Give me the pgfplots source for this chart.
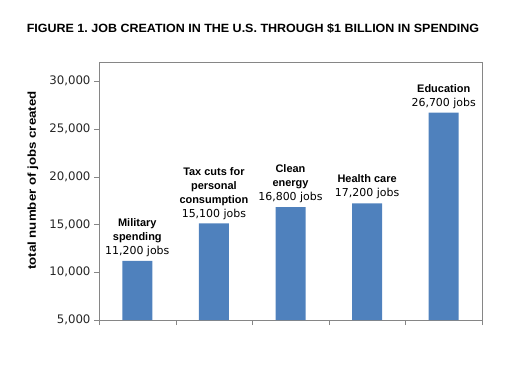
\documentclass[border=0pt]{standalone}
\usepackage{fontspec}
\setmainfont{Liberation Sans}
\newfontfamily\dejavu{DejaVu Sans}
\usepackage{pgfplots}
\pgfplotsset{compat=1.18}
\definecolor{barblue}{HTML}{4F81BD}
\definecolor{axgray}{HTML}{868686}
\begin{document}
\frenchspacing
\begin{tikzpicture}[x=1bp,y=1bp]
\useasboundingbox (0,0) rectangle (523,375);
\node[font=\bfseries\fontsize{12}{14}\selectfont] at (253,346) {\scalebox{1.045}[1]{FIGURE 1. JOB CREATION IN THE U.S. THROUGH \$1 BILLION IN SPENDING}};
\node[rotate=90,font=\bfseries\fontsize{11.5}{14}\selectfont] at (33,194.5) {\scalebox{1.16}[1]{total number of jobs created}};
\begin{axis}[
  at={(99bp,55bp)}, anchor=south west,
  scale only axis, width=383bp, height=258bp,
  xmin=-0.5, xmax=4.5, ymin=5000, ymax=32000,
  xtick={-0.5,0.5,1.5,2.5,3.5,4.5}, xticklabels={},
  ytick={5000,10000,15000,20000,25000,30000},
  scaled y ticks=false,
  xtick pos=bottom, ytick pos=left,
  tick align=outside, major tick length=5bp,
  axis line style={axgray}, tick style={axgray},
  yticklabel style={font=\dejavu\fontsize{11.8}{13}\selectfont, text=black!85},
  /pgf/number format/.cd, 1000 sep={,}, assume math mode=true,
]
\addplot[ybar, bar width=30bp, fill=barblue, draw=none] coordinates {(0,11200) (1,15100) (2,16800) (3,17200) (4,26700)};
\node[above, align=center, inner sep=4bp, font=\fontsize{11}{14}\selectfont] at (axis cs:0,11200) {\textbf{Military}\\\textbf{spending}\\{\dejavu 11,200 jobs}};
\node[above, align=center, inner sep=4bp, font=\fontsize{11}{14}\selectfont] at (axis cs:1,15100) {\textbf{Tax cuts for}\\\textbf{personal}\\\textbf{consumption}\\{\dejavu 15,100 jobs}};
\node[above, align=center, inner sep=4bp, font=\fontsize{11}{14}\selectfont] at (axis cs:2,16800) {\textbf{Clean}\\\textbf{energy}\\{\dejavu 16,800 jobs}};
\node[above, align=center, inner sep=4bp, font=\fontsize{11}{14}\selectfont] at (axis cs:3,17200) {\textbf{Health care}\\{\dejavu 17,200 jobs}};
\node[above, align=center, inner sep=4bp, font=\fontsize{11}{14}\selectfont] at (axis cs:4,26700) {\textbf{Education}\\{\dejavu 26,700 jobs}};
\end{axis}
\end{tikzpicture}
\end{document}
